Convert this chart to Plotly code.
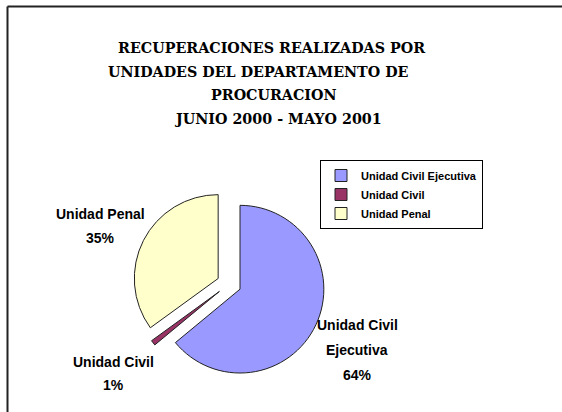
import plotly.graph_objects as go

# Data
categories = ["Unidad Civil Ejecutiva", "Unidad Civil", "Unidad Penal"]
values = [64, 1, 35]
colors = ["#9999FF", "#993366", "#FFFFCC"]
title_lines = [
    "RECUPERACIONES REALIZADAS POR",
    "UNIDADES DEL DEPARTAMENTO DE",
    "PROCURACION",
    "JUNIO 2000 - MAYO 2001",
]
label_lines = [["Unidad Civil", "Ejecutiva"], ["Unidad Civil"], ["Unidad Penal"]]

W, H = 562, 412

fig = go.Figure()
fig.add_trace(go.Pie(
    labels=categories,
    values=values,
    sort=False,
    direction="clockwise",
    rotation=0,
    pull=[0.145, 0.145, 0.145],
    marker=dict(colors=colors, line=dict(color="#222222", width=1)),
    textinfo="none",
    hoverinfo="label+percent",
    domain=dict(x=[(229 - 96) / W, (229 + 96) / W], y=[(H - 284 - 96) / H, (H - 284 + 96) / H]),
))

annotations = []
# Title lines
title_pos = [(271, 48), (258, 72), (274, 95), (278, 119)]
for txt, (x, y) in zip(title_lines, title_pos):
    annotations.append(dict(
        text=txt, x=x / W, y=1 - y / H, xref="paper", yref="paper",
        xanchor="center", yanchor="middle", showarrow=False,
        font=dict(family="DejaVu Serif", size=14.3, color="#000000", weight="bold"),
    ))

# Slice labels (lines + percentage)
total = sum(values)
label_pos = [
    (357, [325, 350, 375]),
    (113, [362, 385]),
    (100, [214, 238]),
]
for lines, v, (x, ys) in zip(label_lines, values, label_pos):
    texts = lines + [f"{round(100 * v / total)}%"]
    for t, y in zip(texts, ys):
        annotations.append(dict(
            text=t, x=x / W, y=1 - y / H, xref="paper", yref="paper",
            xanchor="center", yanchor="middle", showarrow=False,
            font=dict(family="Liberation Sans, Arial", size=14,
                      color="#000000", weight="bold"),
        ))

fig.update_layout(
    width=W, height=H,
    margin=dict(l=0, r=0, t=0, b=0),
    paper_bgcolor="white",
    plot_bgcolor="white",
    showlegend=True,
    legend=dict(
        x=320 / W, y=1 - 160 / H, xanchor="left", yanchor="top",
        bordercolor="#000000", borderwidth=1,
        font=dict(family="Liberation Sans, Arial", size=11, color="#000000", weight="bold"),
        bgcolor="white",
    ),
    annotations=annotations,
    shapes=[
        dict(type="line", xref="paper", yref="paper", x0=7.5 / W, x1=1.05,
             y0=1 - 6.5 / H, y1=1 - 6.5 / H, line=dict(color="#222222", width=2)),
        dict(type="line", xref="paper", yref="paper", x0=7.5 / W, x1=7.5 / W,
             y0=-0.05, y1=1 - 6.5 / H, line=dict(color="#222222", width=2)),
    ],
)

fig.write_html(
    "out.html",
    config={"displayModeBar": False},
    post_script="document.body.style.margin='0';document.body.style.overflow='hidden';",
)
